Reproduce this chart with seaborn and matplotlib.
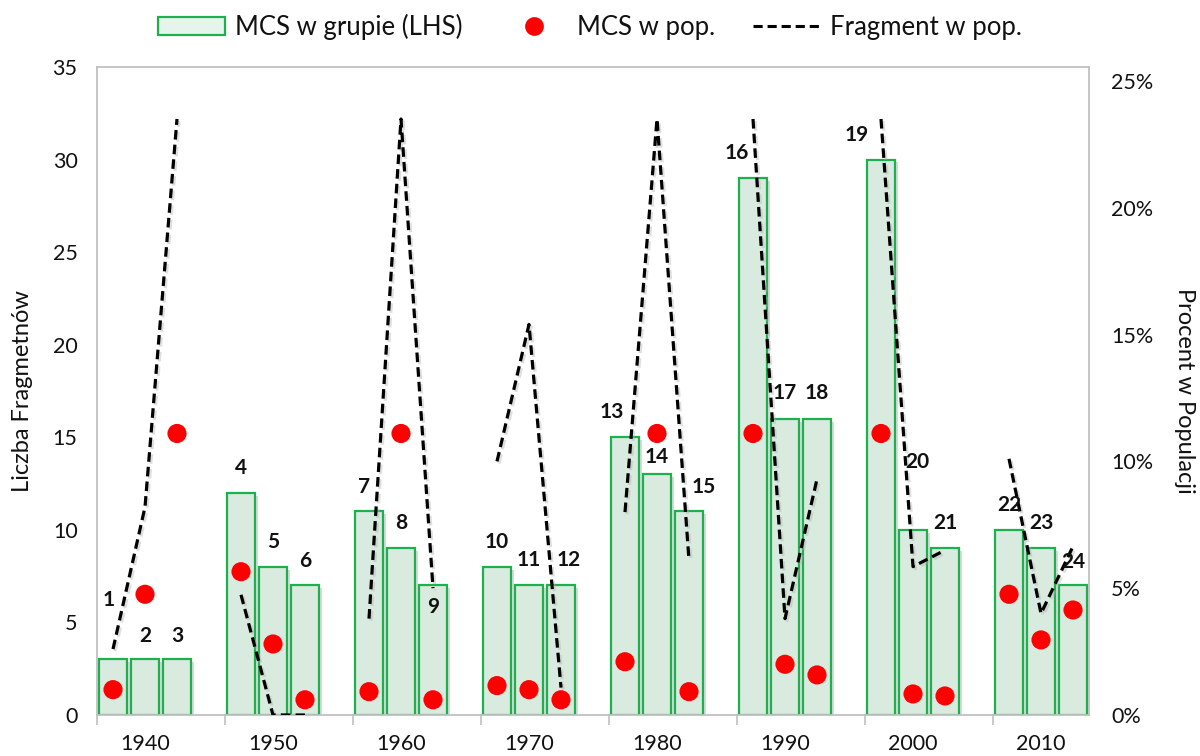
import matplotlib
matplotlib.use("Agg")
import matplotlib.pyplot as plt
import matplotlib.patheffects as pe
from matplotlib.lines import Line2D
from matplotlib.patches import Patch
from matplotlib.ticker import FixedLocator, FuncFormatter
import numpy as np
import pandas as pd
import seaborn as sns

# ---- data -------------------------------------------------------------
decades = ["1940", "1950", "1960", "1970", "1980", "1990", "2000", "2010"]
group_ids = list(range(1, 25))
mcs_group = [3, 3, 3, 12, 8, 7, 11, 9, 7, 8, 7, 7,
             15, 13, 11, 29, 16, 16, 30, 10, 9, 10, 9, 7]
mcs_pop = [1.0, 4.76, 11.1, 5.65, 2.8, 0.6, 0.92, 11.1, 0.6, 1.16, 1.0, 0.6,
           2.1, 11.1, 0.92, 11.1, 2.0, 1.58, 11.1, 0.83, 0.75, 4.76, 2.96, 4.14]
fragment_pop = [2.6, 8.2, 23.5, 4.74, 0.0, 0.0, 3.8, 23.5, 5.0, 10.0, 15.4, 1.08,
                8.0, 23.5, 6.1, 23.5, 3.8, 9.3, 23.5, 5.85, 6.5, 10.1, 4.0, 6.65]

# ---- layout: three bars per decade, one empty slot between decades ------
slot = [4 * (i // 3) + (i % 3) + 0.5 for i in range(len(group_ids))]
decade_of = [decades[i // 3] for i in range(len(group_ids))]

# label anchor (x offset in slots, y in left-axis units)
label_dx = [-0.15, 0, 0, 0, 0, 0, -0.15, 0, 0, 0, 0, 0.25,
            -0.4, 0, 0.45, -0.5, 0, 0, -0.75, 0.15, 0, 0, 0, 0]
label_y = [6.2, 4.27, 4.27, 13.33, 9.36, 8.34, 12.34, 10.36, 5.85, 9.36, 8.38, 8.38,
           16.34, 13.93, 12.34, 30.38, 17.39, 17.39, 31.35, 13.69, 10.36, 11.35, 10.36, 8.29]

df = pd.DataFrame({"slot": slot, "decade": decade_of, "mcs_group": mcs_group,
                   "mcs_pop": mcs_pop, "fragment_pop": fragment_pop})

# ---- style ------------------------------------------------------------
sns.set_theme(style="white")
plt.rcParams["font.family"] = ["Lato", "DejaVu Sans"]

BAR_FILL = "#d9ebdf"
BAR_EDGE = "#1db04f"
DOT = "#ff0000"
FRAME = "#c0c0c0"
TXT = "#111111"
DASH = (0, (3.0, 1.6))

fig, ax = plt.subplots(figsize=(12, 7.56), dpi=100)
fig.subplots_adjust(left=97 / 1200, right=1089 / 1200, top=1 - 67 / 756, bottom=1 - 715 / 756)

shadow = [pe.SimplePatchShadow(offset=(2, -2), shadow_rgbFace="#9a9a9a", alpha=0.35), pe.Normal()]

sns.barplot(data=df, x="slot", y="mcs_group", native_scale=True, width=0.875,
            color=BAR_FILL, saturation=1, edgecolor=BAR_EDGE, linewidth=1.6, ax=ax)
for p in ax.patches:
    p.set_path_effects(shadow)

ax.set_xlim(0, 31)
ax.set_ylim(0, 35)
ax.set_yticks(np.arange(0, 36, 5))
ax.set_ylabel("Liczba Fragmetnów", fontsize=17, color=TXT, labelpad=14)
ax.set_xlabel("")

ax.xaxis.set_major_locator(FixedLocator(np.arange(0, 29, 4)))
ax.xaxis.set_major_formatter(FuncFormatter(lambda v, p: ""))
ax.xaxis.set_minor_locator(FixedLocator([4 * i + 1.5 for i in range(len(decades))]))
ax.set_xticklabels(decades, minor=True)
ax.tick_params(axis="x", which="major", length=7, width=1.2, color=FRAME, direction="out", bottom=True)
ax.tick_params(axis="x", which="minor", length=0, labelsize=15.5, labelcolor=TXT, pad=14)
ax.tick_params(axis="y", length=0, labelsize=15.5, labelcolor=TXT, pad=14)

for s in ax.spines.values():
    s.set_color(FRAME)
    s.set_linewidth(1.3)

# ---- right axis: population share ------------------------------------
ax2 = ax.twinx()
ax2.set_ylim(0, 25.55)
ax2.set_yticks(np.arange(0, 26, 5))
ax2.yaxis.set_major_formatter(FuncFormatter(lambda v, p: f"{v:.0f}%"))
ax2.tick_params(axis="y", length=0, labelsize=15.5, labelcolor=TXT, pad=16)
ax2.set_ylabel("Procent w Populacji", fontsize=17, color=TXT, rotation=-90, labelpad=30)
for s in ax2.spines.values():
    s.set_visible(False)

line_shadow = [pe.SimpleLineShadow(offset=(1.5, -1.5), shadow_color="#b0b0b0", alpha=0.4), pe.Normal()]
sns.lineplot(data=df, x="slot", y="fragment_pop", units="decade", estimator=None,
             color="black", linewidth=2.3, linestyle=DASH, sort=False,
             ax=ax2, legend=False, path_effects=line_shadow)

sns.scatterplot(data=df, x="slot", y="mcs_pop", color=DOT, s=190, edgecolor="none",
                ax=ax2, legend=False, zorder=5)
ax2.set_xlim(0, 31)

for gid, x, dx, y in zip(group_ids, slot, label_dx, label_y):
    ax2.text(x + dx, y, str(gid), transform=ax.transData, ha="center", va="center",
             fontsize=15, fontweight="bold", color=TXT, zorder=6)

# ---- legend -----------------------------------------------------------
handles = [
    Patch(facecolor="#e6f5ec", edgecolor=BAR_EDGE, linewidth=1.6),
    Line2D([], [], marker="o", color="none", markerfacecolor=DOT, markeredgecolor="none", markersize=13.5),
    Line2D([], [], color="black", linewidth=2.2, linestyle=DASH),
]
fig.legend(handles, ["MCS w grupie (LHS)", "MCS w pop.", "Fragment w pop."],
           loc="center", bbox_to_anchor=(590 / 1200, 1 - 27 / 756), ncol=3, frameon=False,
           fontsize=18.5, handlelength=2.6, handleheight=0.7, columnspacing=1.45,
           handletextpad=0.4, labelcolor=TXT)

fig.savefig("out.png", dpi=100)
